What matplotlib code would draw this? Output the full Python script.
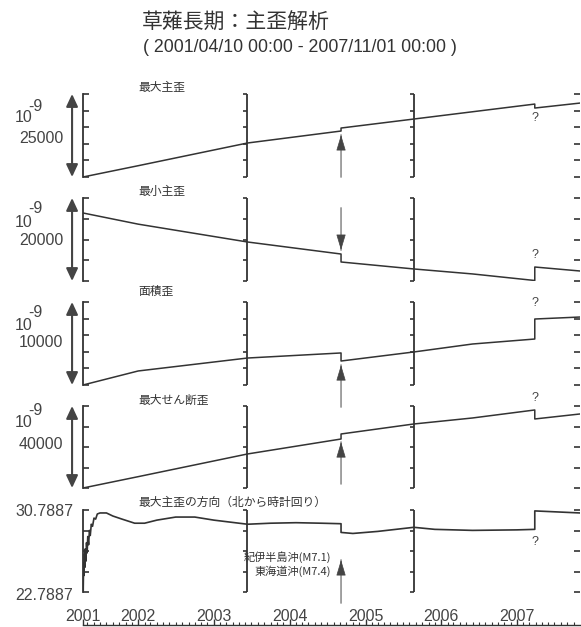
import numpy as np
import matplotlib
matplotlib.use('Agg')
import matplotlib.pyplot as plt
import matplotlib.dates as mdates
import matplotlib.transforms as mtransforms

plt.rcParams['font.family'] = ['Liberation Sans', 'Noto Sans CJK JP', 'DejaVu Sans']
JP = ['Noto Sans CJK JP', 'DejaVu Sans']

W, H = 581, 627
DARK = '#333333'
TXT = '#444444'

# ---- data ----
t_start = '2001-04-10'
t_end = '2007-11-01'
eq_date = '2004-09-05'      # 紀伊半島沖 / 東海道沖
q_date = '2007-03-28'       # "?" step
bracket_dates = ['2003-06-12', '2005-08-22']

strain_dates = ['2001-04-10', '2002-01-01', '2003-06-12', '2004-09-05', '2004-09-05',
                '2005-08-22', '2006-06-01', '2007-03-28', '2007-03-28', '2007-11-01']
max_principal = [0, 3400, 10240, 13850, 14750, 17460, 19650, 21970, 20770, 22270]
min_principal = [16390, 13700, 9400, 6500, 4580, 2900, 1700, 120, 3370, 2410]
area_strain = [0, 1690, 3250, 3860, 2890, 3980, 4940, 5540, 7950, 8190]
max_shear = [0, 5530, 16600, 23900, 26350, 31230, 34160, 38060, 33670, 36110]

dir_dates = ['2001-04-10', '2001-04-11', '2001-04-13', '2001-04-15', '2001-04-17',
             '2001-04-19', '2001-04-21', '2001-04-24', '2001-04-27', '2001-04-30',
             '2001-05-03', '2001-05-07', '2001-05-11', '2001-05-15', '2001-05-20',
             '2001-05-26', '2001-06-02', '2001-06-10', '2001-06-18', '2001-07-01',
             '2001-08-01', '2001-09-01', '2001-10-15', '2001-12-15', '2002-02-01',
             '2002-04-01', '2002-07-01', '2002-10-01', '2003-01-01', '2003-06-12',
             '2003-10-01', '2004-02-01', '2004-06-01', '2004-09-05', '2004-09-05',
             '2004-11-01', '2005-03-01', '2005-08-22', '2005-12-01', '2006-06-01',
             '2007-01-01', '2007-03-28', '2007-03-28', '2007-11-01']
dir_vals = [24.5, 22.9, 25.6, 24.4, 26.5,
            25.2, 27.0, 25.8, 27.6, 26.6,
            28.2, 27.4, 28.8, 28.3, 29.4,
            29.2, 30.0, 29.9, 30.4, 30.5,
            30.5, 30.2, 29.9, 29.5, 29.5,
            29.8, 30.1, 30.1, 29.8, 29.4,
            29.5, 29.55, 29.5, 29.45, 28.6,
            28.5, 28.7, 29.1, 28.9, 28.8,
            28.85, 28.9, 30.7, 30.5]

titles = ['最大主歪', '最小主歪', '面積歪', '最大せん断歪', '最大主歪の方向（北から時計回り）']
spans = ['25000', '20000', '10000', '40000']
dir_top, dir_bottom = '30.7887', '22.7887'
year_labels = ['2001', '2002', '2003', '2004', '2005', '2006', '2007']
year_ticks = ['2001-04-10', '2002-01-01', '2003-01-01', '2004-01-01',
              '2005-01-01', '2006-01-01', '2007-01-01']


def dnum(d):
    return mdates.date2num(np.array(d, dtype='datetime64[D]'))


x0, x1 = dnum(t_start), dnum(t_end)
eq = dnum(eq_date)
qx = dnum(q_date)

fig = plt.figure(figsize=(W / 100, H / 100), dpi=100)

# panel rectangles in px (top, bottom)
rows = [(94, 177), (198, 281), (302, 385), (406, 488), (510, 592)]
LEFT, RIGHT = 83, 580


def add_panel(top, bottom):
    return fig.add_axes([LEFT / W, 1 - bottom / H, (RIGHT - LEFT) / W, (bottom - top) / H])


def setup_panel(ax, lo, hi, step):
    ax.set_xlim(x0, x1)
    ax.set_ylim(lo, hi)
    ticks = np.arange(lo, hi + step / 2, step)
    ax.set_yticks(ticks)
    for s in ['top', 'bottom', 'right']:
        ax.spines[s].set_visible(False)
    ax.spines['left'].set_linewidth(1.3)
    ax.spines['left'].set_color(DARK)
    ax.tick_params(axis='y', direction='in', length=4, width=1.2, colors=DARK,
                   left=True, right=True, labelleft=False)
    ax.tick_params(axis='x', bottom=False, labelbottom=False)
    ax.patch.set_visible(False)
    for bd in bracket_dates:
        xb = dnum(bd)
        ax.axvline(xb, color=DARK, lw=1.3)
        ax.plot([xb] * len(ticks), ticks, ls='none', marker=0, ms=3, mew=1.2,
                color=DARK, clip_on=False)


def event_arrow(ax, y_from, y_to):
    ax.annotate('', xy=(eq, y_to), xytext=(eq, y_from), xycoords=('data', 'axes fraction'),
                arrowprops=dict(arrowstyle='-', color='#999999', lw=1.3, shrinkA=0, shrinkB=0),
                annotation_clip=False)
    back = -10 if y_to > y_from else 10
    ax.annotate('', xy=(eq, y_to), xycoords=('data', 'axes fraction'),
                xytext=(0, back), textcoords='offset points',
                arrowprops=dict(arrowstyle='-|>,head_length=1.0,head_width=0.3',
                                mutation_scale=10, color='#444444', lw=0.5,
                                shrinkA=0, shrinkB=0),
                annotation_clip=False)


def span_arrow(ax):
    ax.annotate('', xy=(-0.022, 1), xytext=(-0.022, 0), xycoords='axes fraction',
                arrowprops=dict(arrowstyle='<|-|>,head_length=0.75,head_width=0.35',
                                mutation_scale=10, color='#444444', lw=1.5,
                                shrinkA=0, shrinkB=0),
                annotation_clip=False)


def qmark(ax, yf):
    ax.text(qx, yf, '?', transform=mtransforms.blended_transform_factory(ax.transData, ax.transAxes),
            ha='center', va='center', fontsize=9, color=TXT)


series = [max_principal, min_principal, area_strain, max_shear]
limits = [(0, 25000, 5000), (0, 20000, 5000), (0, 10000, 2000), (0, 40000, 10000)]
title_off = [6.5, 7, 11, 6, 8]
label_off = [(17, 28, 49), (15, 29, 47), (15, 28, 45), (9, 21, 43)]
arrows = [(0.0, 0.506), (0.88, 0.373), (-0.265, 0.24), (0.05, 0.56), (-0.134, 0.39)]
qpos = [0.71, 0.31, 0.99, 1.10, 0.61]

x2002 = dnum('2002-01-01')
axes = []
for i, (top, bottom) in enumerate(rows):
    ax = add_panel(top, bottom)
    axes.append(ax)
    if i < 4:
        lo, hi, step = limits[i]
        setup_panel(ax, lo, hi, step)
        ax.plot(dnum(strain_dates), series[i], color=DARK, lw=1.1)
        span_arrow(ax)
        a, b, c = label_off[i]
        fig.text(15 / W, 1 - (top + b) / H, '10', fontsize=11.5, color=TXT, va='baseline')
        fig.text(28 / W, 1 - (top + a) / H, '-9', fontsize=11.5, color=TXT, va='baseline')
        fig.text(63 / W, 1 - (top + c) / H, spans[i], fontsize=11.5, color=TXT,
                 va='baseline', ha='right')
    else:
        setup_panel(ax, 22.7887, 30.7887, 2)
        ax.plot(dnum(dir_dates), dir_vals, color=DARK, lw=1.2)
        fig.text(73 / W, 1 - 512 / H, dir_top, fontsize=11.5, color=TXT, va='center', ha='right')
        fig.text(73 / W, 1 - 595 / H, dir_bottom, fontsize=11.5, color=TXT, va='center', ha='right')
        ax.annotate('紀伊半島沖(M7.1)', xy=(eq, 0.427), xycoords=('data', 'axes fraction'),
                    xytext=(-7, 0), textcoords='offset points', ha='right', va='center',
                    fontsize=8, family=JP, color=DARK)
        ax.annotate('東海道沖(M7.4)', xy=(eq, 0.256), xycoords=('data', 'axes fraction'),
                    xytext=(-7, 0), textcoords='offset points', ha='right', va='center',
                    fontsize=8, family=JP, color=DARK)
    ax.annotate(titles[i], xy=(x2002, 1), xycoords=('data', 'axes fraction'),
                xytext=(0, title_off[i] * 0.72), textcoords='offset points',
                ha='left', va='center', fontsize=8.5, family=JP, color=DARK)
    event_arrow(ax, *arrows[i])
    qmark(ax, qpos[i])

# bottom time axis
axb = fig.add_axes([LEFT / W, (627 - 625) / H, (RIGHT - LEFT) / W, 0.0001])
axb.set_xlim(x0, x1)
axb.set_yticks([])
for s in ['top', 'left', 'right']:
    axb.spines[s].set_visible(False)
axb.spines['bottom'].set_color(DARK)
axb.spines['bottom'].set_linewidth(1.0)
axb.set_xticks(dnum(year_ticks))
axb.set_xticklabels(year_labels)
months = np.arange(np.datetime64('2001-05'), np.datetime64('2007-11'), dtype='datetime64[M]')
axb.set_xticks(mdates.date2num(months.astype('datetime64[D]')), minor=True)
axb.tick_params(axis='x', which='both', bottom=False, labelbottom=False,
                top=True, labeltop=True, direction='out', colors=DARK)
axb.tick_params(axis='x', which='major', length=4, width=1.0, pad=-3, labelsize=11.5,
                labelcolor=TXT)
axb.tick_params(axis='x', which='minor', length=2.5, width=0.8)
axb.patch.set_visible(False)

fig.text(142 / W, 1 - 23 / H, '草薙長期：主歪解析', fontsize=15, family=JP,
         color=DARK, ha='left', va='center')
fig.text(143 / W, 1 - 47 / H, '( 2001/04/10 00:00 - 2007/11/01 00:00 )', fontsize=12.8,
         color=DARK, ha='left', va='center')

fig.savefig('out.png', dpi=100)
